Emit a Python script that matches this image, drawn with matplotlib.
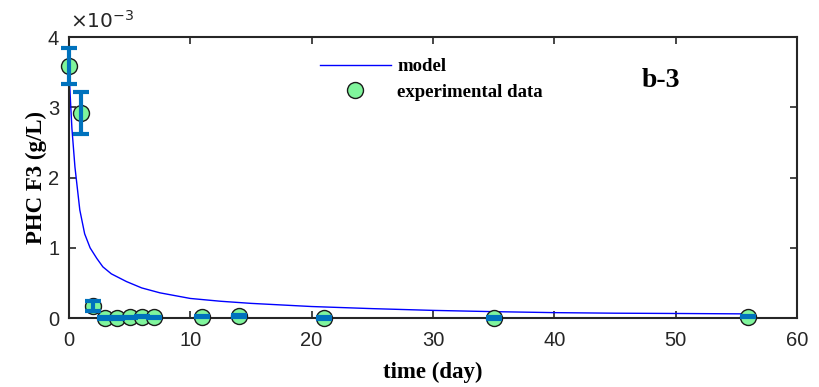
import matplotlib.pyplot as plt
from matplotlib.ticker import FuncFormatter

# experimental data (g/L)
t_exp = [0, 1, 2, 3, 4, 5, 6, 7, 11, 14, 21, 35, 56]
c_exp = [3.59e-3, 2.92e-3, 0.17e-3, 0.0, 0.0, 0.01e-3, 0.02e-3, 0.01e-3,
         0.02e-3, 0.03e-3, 0.0, 0.0, 0.02e-3]
c_err = [0.25e-3, 0.30e-3, 0.075e-3, 0.01e-3, 0.01e-3, 0.01e-3, 0.01e-3,
         0.01e-3, 0.01e-3, 0.01e-3, 0.01e-3, 0.01e-3, 0.01e-3]

# model curve
t_mod = [0, 0.1, 0.25, 0.5, 0.9, 1.3, 1.75, 2.3, 2.8, 3.5, 4.75, 6, 7.5,
         10, 12.5, 15, 20, 25, 30, 35, 40, 45, 50, 56]
c_mod = [3.6e-3, 3.2e-3, 2.7e-3, 2.15e-3, 1.54e-3, 1.2e-3, 1.0e-3, 0.85e-3,
         0.73e-3, 0.63e-3, 0.52e-3, 0.43e-3, 0.36e-3, 0.28e-3, 0.24e-3,
         0.21e-3, 0.165e-3, 0.135e-3, 0.11e-3, 0.092e-3, 0.078e-3,
         0.07e-3, 0.066e-3, 0.06e-3]

plt.rcParams['font.family'] = ['Liberation Sans', 'DejaVu Sans']
serif = ['Liberation Serif', 'DejaVu Serif']

fig = plt.figure(figsize=(8.2, 3.87), dpi=100)
ax = fig.add_axes([0.084, 0.178, 0.888, 0.726])

ax.plot(t_mod, c_mod, color='blue', lw=1.0, label='model', zorder=2)
ax.plot(t_exp, c_exp, 'o', ms=11.5, mfc='#80F59C', mec='#1a1a1a', mew=1.0,
        label='experimental data', zorder=3, clip_on=False)
eb = ax.errorbar(t_exp, c_exp, yerr=c_err, fmt='none', ecolor='#0072BD',
                 elinewidth=3, capsize=6, capthick=3, zorder=4)
for part in eb.lines[1] + eb.lines[2]:
    part.set_clip_on(False)

ax.set_xlim(0, 60)
ax.set_ylim(0, 4e-3)
ax.set_xticks([0, 10, 20, 30, 40, 50, 60])
ax.set_yticks([0, 1e-3, 2e-3, 3e-3, 4e-3])
ax.yaxis.set_major_formatter(FuncFormatter(lambda v, p: f'{v * 1e3:g}'))
ax.text(0.002, 1.02, r'$\times10^{-3}$', transform=ax.transAxes,
        fontsize=14.5, color='#262626', va='bottom', ha='left')
ax.tick_params(direction='in', top=True, right=True, labelsize=14.5,
               width=1.2, length=5, colors='#262626')
ax.tick_params(axis='x', pad=9)
ax.tick_params(axis='y', pad=7)
for s in ax.spines.values():
    s.set_linewidth(1.5)
    s.set_color('#262626')

ax.set_xlabel('time (day)', fontsize=16.5, fontweight='bold', family=serif, labelpad=9)
ax.set_ylabel('PHC F3 (g/L)', fontsize=16.5, fontweight='bold', family=serif, labelpad=1)

ax.legend(loc='upper left', bbox_to_anchor=(0.322, 0.985), frameon=False,
          prop={'family': serif, 'weight': 'bold', 'size': 13.5},
          handlelength=3.75, handletextpad=0.35, labelspacing=0.45)
ax.text(0.786, 0.845, 'b-3', transform=ax.transAxes, fontsize=20,
        fontweight='bold', family=serif, va='center')

fig.savefig('out.png', dpi=100)
